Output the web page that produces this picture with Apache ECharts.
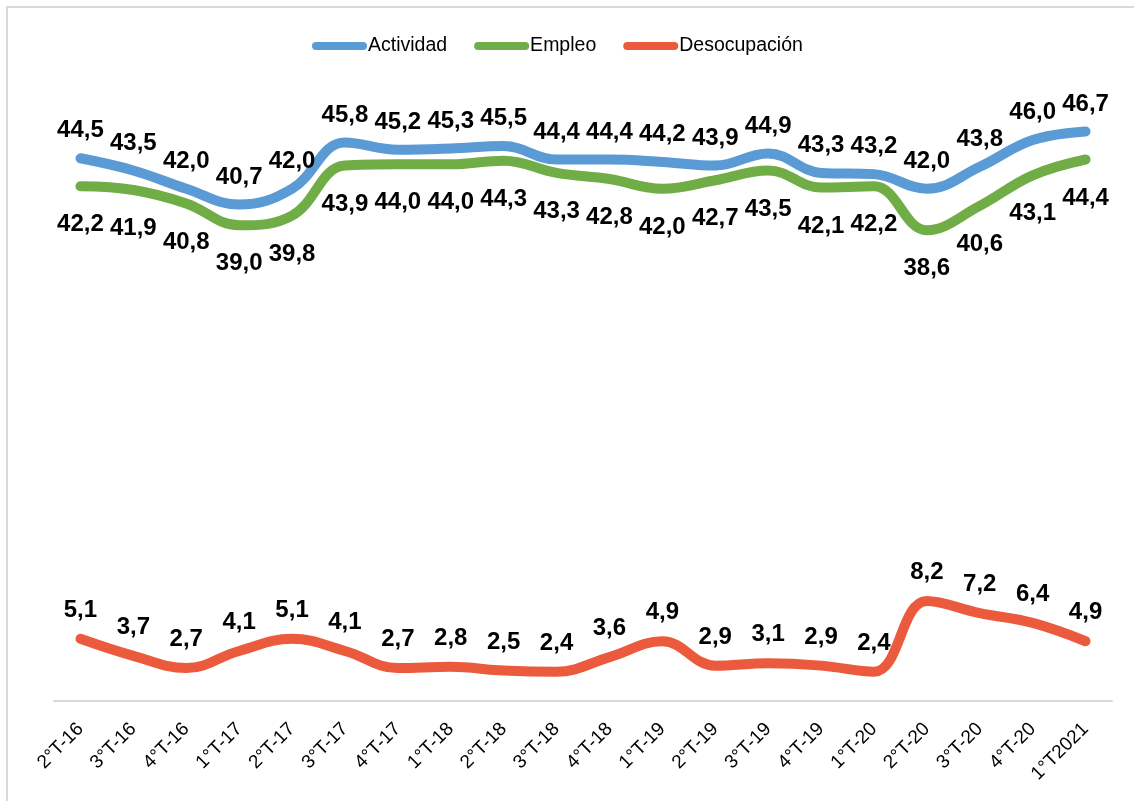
<!DOCTYPE html>
<html>
<head>
<meta charset="utf-8">
<script src="https://cdn.jsdelivr.net/npm/echarts@6/dist/echarts.min.js"></script>
<style>
html,body{margin:0;padding:0;background:#fff;}
#chart{width:1134px;height:801px;}
</style>
</head>
<body>
<div id="chart"></div>
<script>
const categories = ['2°T-16','3°T-16','4°T-16','1°T-17','2°T-17','3°T-17','4°T-17','1°T-18','2°T-18','3°T-18','4°T-18','1°T-19','2°T-19','3°T-19','4°T-19','1°T-20','2°T-20','3°T-20','4°T-20','1°T2021'];
const actividad = [44.5,43.5,42.0,40.7,42.0,45.8,45.2,45.3,45.5,44.4,44.4,44.2,43.9,44.9,43.3,43.2,42.0,43.8,46.0,46.7];
const empleo = [42.2,41.9,40.8,39.0,39.8,43.9,44.0,44.0,44.3,43.3,42.8,42.0,42.7,43.5,42.1,42.2,38.6,40.6,43.1,44.4];
const desocupacion = [5.1,3.7,2.7,4.1,5.1,4.1,2.7,2.8,2.5,2.4,3.6,4.9,2.9,3.1,2.9,2.4,8.2,7.2,6.4,4.9];

const FONT = '"Liberation Sans", Arial, sans-serif';
const fmt = p => p.value.toFixed(1).replace('.', ',');
const legendIcon = 'path://M4,0 H51 A4,4 0 0 1 51,8 H4 A4,4 0 0 1 4,0 Z';

function mkSeries(name, data, color, pos, dist) {
  return {
    name: name,
    type: 'line',
    data: data,
    smooth: 0.4,
    symbol: 'circle',
    symbolSize: 1,
    itemStyle: { color: color },
    lineStyle: { color: color, width: 10, cap: 'round', join: 'round' },
    label: {
      show: true,
      position: pos,
      distance: dist,
      formatter: fmt,
      color: '#000',
      fontFamily: FONT,
      fontWeight: 'bold',
      fontSize: 24
    },
    emphasis: { disabled: true },
    silent: true
  };
}

const chart = echarts.init(document.getElementById('chart'), null, { renderer: 'canvas' });
chart.setOption({
  animation: false,
  backgroundColor: '#fff',
  graphic: [{
    type: 'rect',
    shape: { x: 7, y: 7, width: 1300, height: 1000 },
    style: { fill: 'none', stroke: '#d9d9d9', lineWidth: 2 },
    silent: true
  }],
  legend: {
    top: 31,
    left: 307,
    itemWidth: 55,
    itemHeight: 8,
    itemGap: 27,
    icon: legendIcon,
    textStyle: { fontFamily: FONT, fontSize: 19.5, color: '#000', padding: [0, 0, 0, -4] },
    data: ['Actividad', 'Empleo', 'Desocupación']
  },
  grid: { left: 54, right: 22, top: 79, bottom: 100 },
  xAxis: {
    type: 'category',
    data: categories,
    boundaryGap: true,
    axisLine: { lineStyle: { color: '#d9d9d9', width: 2 } },
    axisTick: { show: false },
    axisLabel: { rotate: 45, margin: 25, fontFamily: FONT, fontSize: 19, color: '#000', interval: 0 }
  },
  yAxis: {
    type: 'value',
    min: 0,
    max: 51,
    show: false,
    splitLine: { show: false }
  },
  series: [
    mkSeries('Actividad', actividad, '#5B9BD5', 'top', 15),
    mkSeries('Empleo', empleo, '#70AD47', 'bottom', 26),
    mkSeries('Desocupación', desocupacion, '#EB5A3C', 'top', 16)
  ]
});
</script>
</body>
</html>
